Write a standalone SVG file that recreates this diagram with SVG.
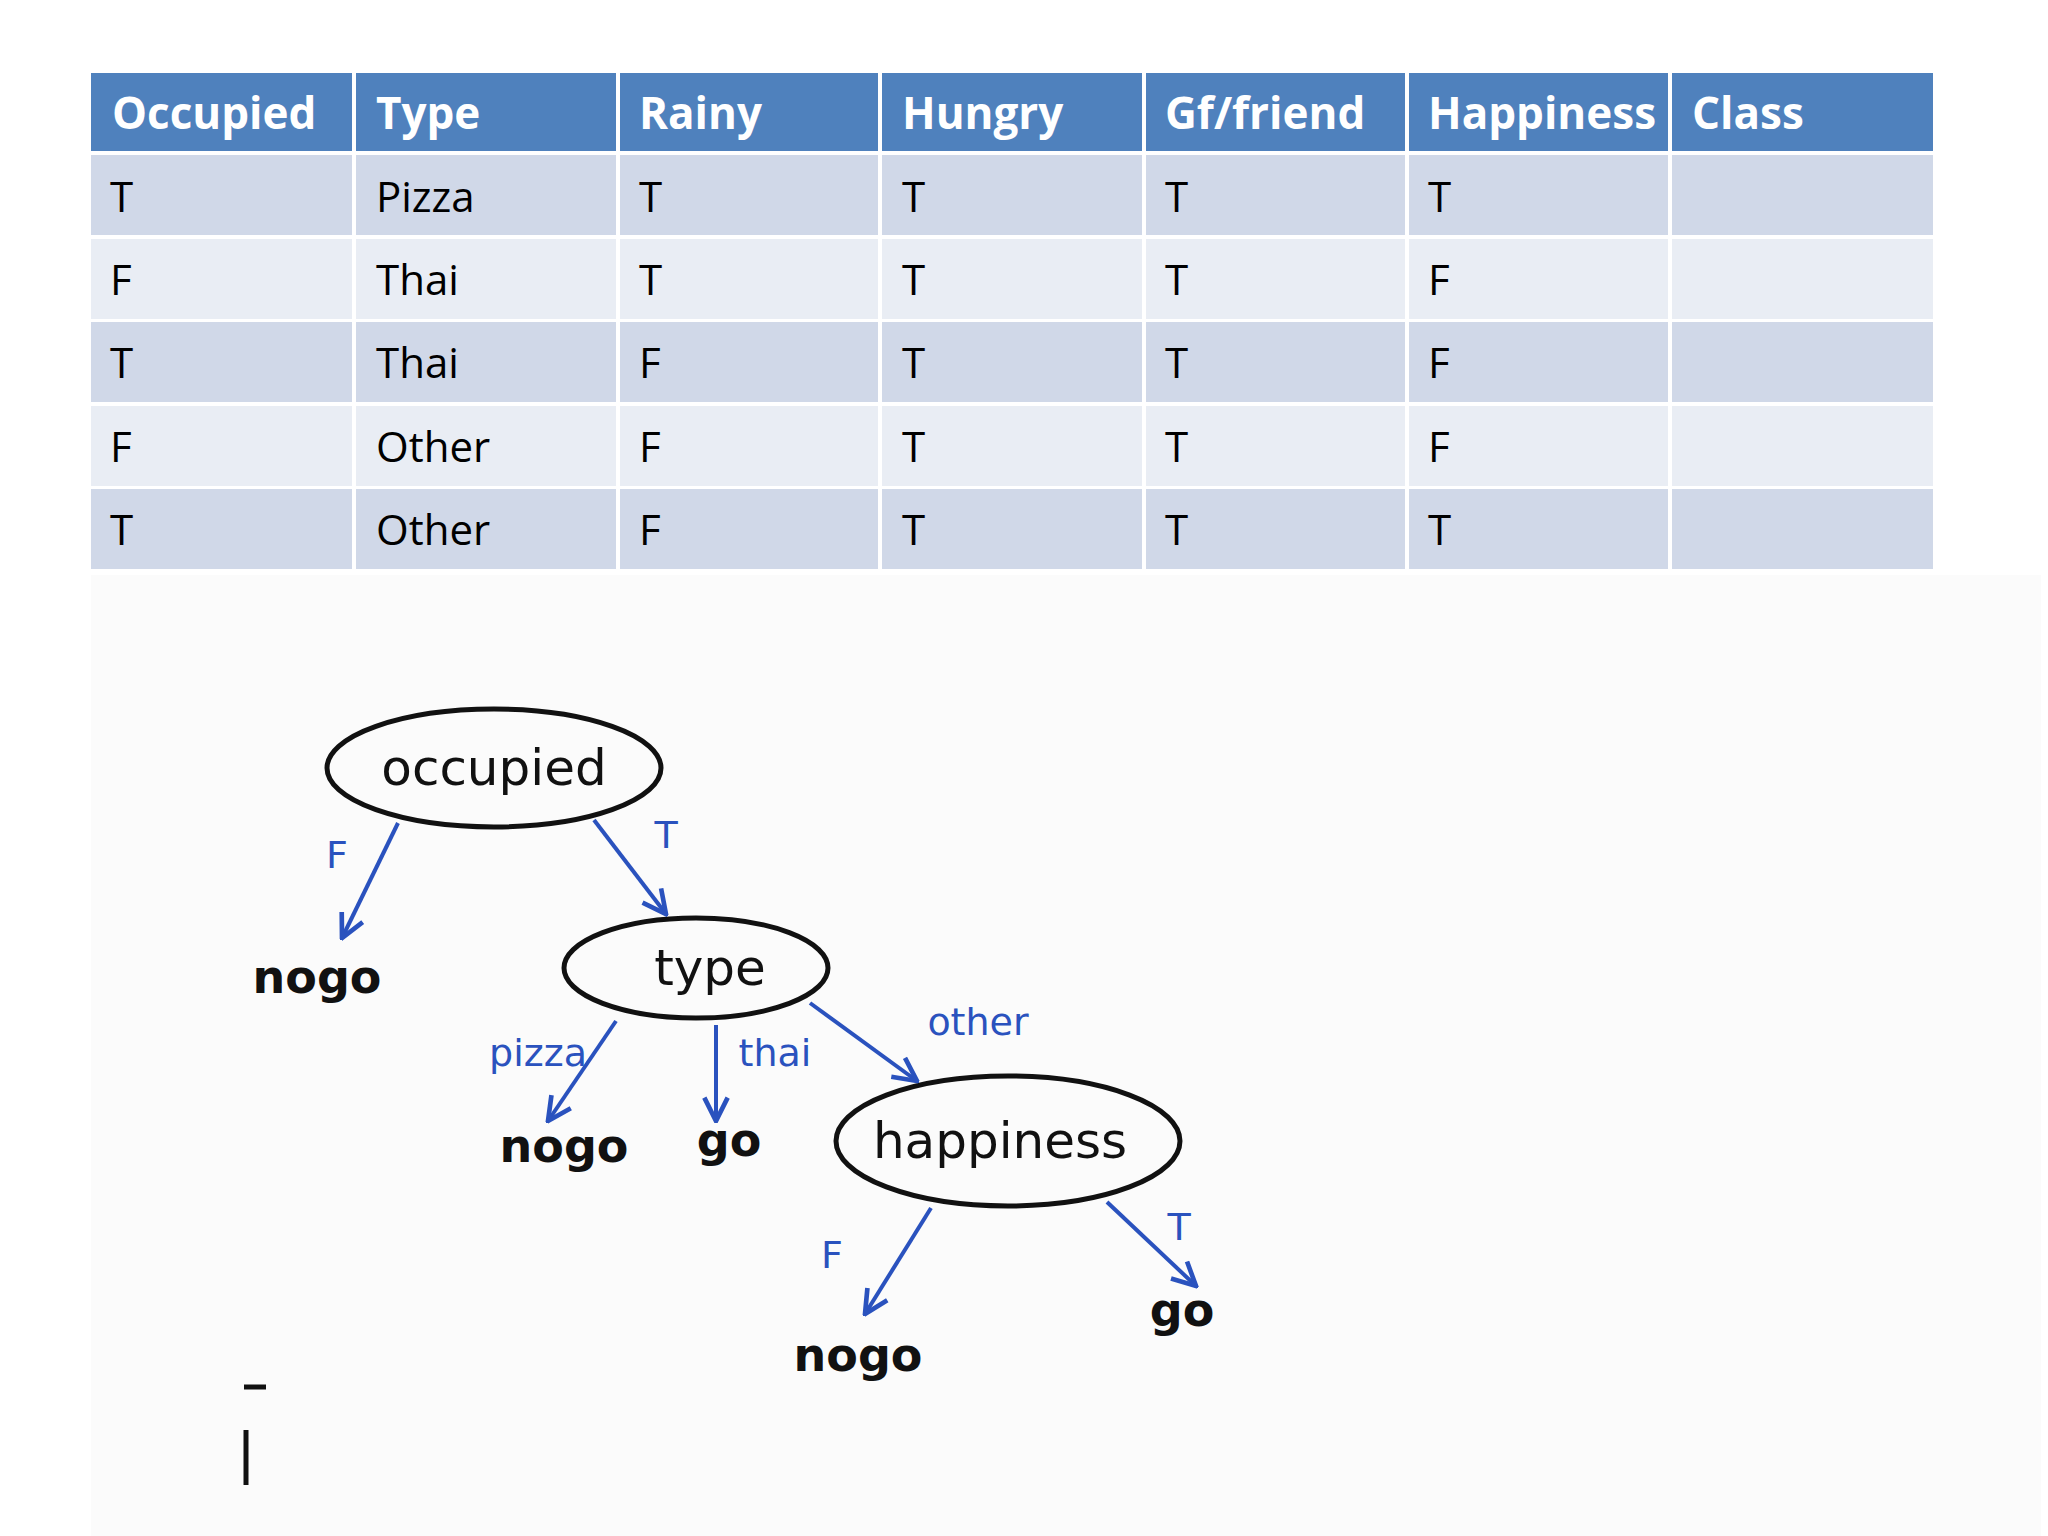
<svg xmlns="http://www.w3.org/2000/svg" width="2048" height="1536" viewBox="0 0 2048 1536">
<style>
.h{fill:#4F81BD}.a{fill:#D0D8E8}.b{fill:#E9EDF4}
.ht{font-family:"Open Sans","Liberation Sans",sans-serif;font-size:44px;font-weight:bold;fill:#fff}
.ct{font-family:"Open Sans","Liberation Sans",sans-serif;font-size:42px;fill:#000}
.nd{fill:none;stroke:#111;stroke-width:5}
.nt{font-family:"DejaVu Sans",sans-serif;font-size:50px;fill:#111}
.lt{font-family:"DejaVu Sans",sans-serif;font-size:38px;fill:#2A52BE}
.lf{font-family:"DejaVu Sans",sans-serif;font-size:46px;font-weight:bold;fill:#111}
.ar{stroke:#2A52BE;stroke-width:4;fill:none;marker-end:url(#m)}
</style>
<defs><marker id="m" viewBox="0 0 12 12" refX="11" refY="6" markerWidth="7" markerHeight="7" orient="auto"><path d="M1,1 L11,6 L1,11" fill="none" stroke="#2A52BE" stroke-width="2"/></marker></defs>
<rect width="2048" height="1536" fill="#fff"/>
<rect x="91" y="575" width="1950" height="961" fill="#FBFBFB"/>
<g id="table">
<g id="hdr">
<rect class="h" x="91" y="73" width="261" height="78"/><rect class="h" x="356" y="73" width="260" height="78"/><rect class="h" x="620" y="73" width="258" height="78"/><rect class="h" x="882" y="73" width="260" height="78"/><rect class="h" x="1146" y="73" width="259" height="78"/><rect class="h" x="1409" y="73" width="259" height="78"/><rect class="h" x="1672" y="73" width="261" height="78"/>
<text class="ht" x="112" y="129">Occupied</text><text class="ht" x="376" y="129">Type</text><text class="ht" x="639" y="129">Rainy</text><text class="ht" x="902" y="129">Hungry</text><text class="ht" x="1165" y="129">Gf/friend</text><text class="ht" x="1428" y="129">Happiness</text><text class="ht" x="1692" y="129">Class</text>
</g>
<g id="rows">
<g fill="#D0D8E8"><rect x="91" y="155" width="1842" height="80"/><rect x="91" y="322" width="1842" height="80"/><rect x="91" y="489" width="1842" height="80"/></g>
<g fill="#E9EDF4"><rect x="91" y="239" width="1842" height="80"/><rect x="91" y="406" width="1842" height="80"/></g>
<g stroke="#fff" stroke-width="4"><line x1="354" y1="153" x2="354" y2="569"/><line x1="618" y1="153" x2="618" y2="569"/><line x1="880" y1="153" x2="880" y2="569"/><line x1="1144" y1="153" x2="1144" y2="569"/><line x1="1407" y1="153" x2="1407" y2="569"/><line x1="1670" y1="153" x2="1670" y2="569"/></g>
<g class="ct">
<text x="110" y="212">T</text><text x="376" y="212">Pizza</text><text x="639" y="212">T</text><text x="902" y="212">T</text><text x="1165" y="212">T</text><text x="1428" y="212">T</text>
<text x="110" y="295">F</text><text x="376" y="295">Thai</text><text x="639" y="295">T</text><text x="902" y="295">T</text><text x="1165" y="295">T</text><text x="1428" y="295">F</text>
<text x="110" y="378">T</text><text x="376" y="378">Thai</text><text x="639" y="378">F</text><text x="902" y="378">T</text><text x="1165" y="378">T</text><text x="1428" y="378">F</text>
<text x="110" y="462">F</text><text x="376" y="462">Other</text><text x="639" y="462">F</text><text x="902" y="462">T</text><text x="1165" y="462">T</text><text x="1428" y="462">F</text>
<text x="110" y="545">T</text><text x="376" y="545">Other</text><text x="639" y="545">F</text><text x="902" y="545">T</text><text x="1165" y="545">T</text><text x="1428" y="545">T</text>
</g></g></g>
<g id="occupied"><ellipse class="nd" cx="494" cy="768" rx="167" ry="59"/><text class="nt" x="494" y="785" text-anchor="middle">occupied</text></g>
<g id="type"><ellipse class="nd" cx="696" cy="968" rx="132" ry="50"/><text class="nt" x="710" y="985" text-anchor="middle">type</text></g>
<g id="happiness"><ellipse class="nd" cx="1008" cy="1141" rx="172" ry="65"/><text class="nt" x="1000" y="1158" text-anchor="middle">happiness</text></g>
<g id="leaves" class="lf" text-anchor="middle">
<text x="317" y="993">nogo</text><text x="564" y="1162">nogo</text><text x="729" y="1156">go</text><text x="858" y="1371">nogo</text><text x="1182" y="1326">go</text>
</g>
<g id="connectors">
<line class="ar" x1="398" y1="823" x2="342" y2="938"/>
<line class="ar" x1="594" y1="820" x2="666" y2="914"/>
<line class="ar" x1="616" y1="1021" x2="548" y2="1121"/>
<line class="ar" x1="716" y1="1025" x2="716" y2="1121"/>
<line class="ar" x1="810" y1="1003" x2="917" y2="1081"/>
<line class="ar" x1="931" y1="1208" x2="865" y2="1314"/>
<line class="ar" x1="1107" y1="1202" x2="1196" y2="1286"/>
</g>
<g id="labels" class="lt" text-anchor="middle">
<text x="337" y="868">F</text><text x="666" y="848">T</text><text x="538" y="1066">pizza</text><text x="775" y="1066">thai</text><text x="978" y="1035">other</text><text x="832" y="1268">F</text><text x="1179" y="1240">T</text>
</g>
<g stroke="#111" stroke-width="5"><line x1="244" y1="1387" x2="266" y2="1387"/><line x1="246" y1="1430" x2="246" y2="1485"/></g>
</svg>
